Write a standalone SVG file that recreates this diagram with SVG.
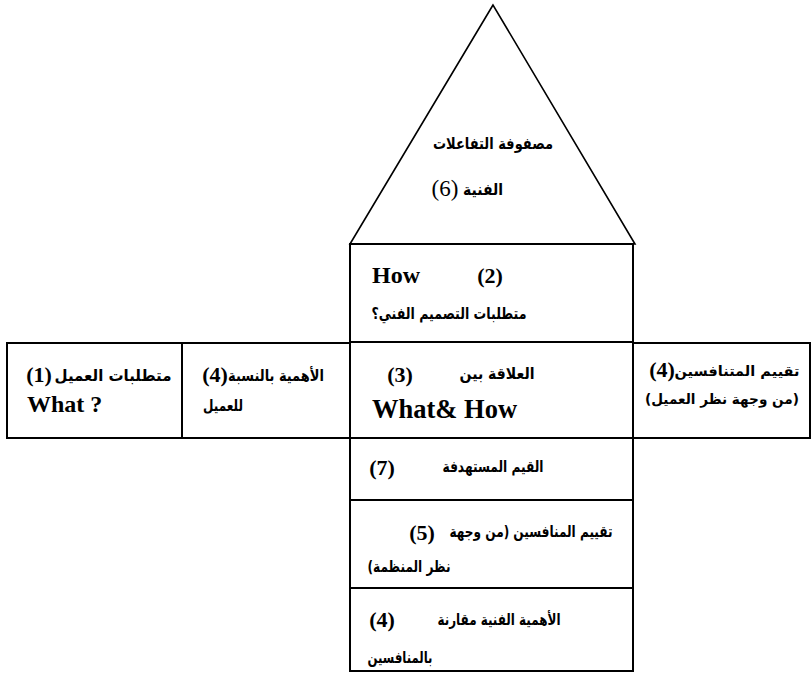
<svg xmlns="http://www.w3.org/2000/svg" width="811" height="673" viewBox="0 0 811 673">
  <style>
    .box { fill: #ffffff; stroke: #000000; stroke-width: 2; }
    .roof { fill: #ffffff; stroke: #000000; stroke-width: 1.6; stroke-linejoin: miter; }
    .ar { font-family: "DejaVu Sans", "Noto Sans", sans-serif; font-weight: bold; font-size: 16px; fill: #000; direction: rtl; text-anchor: middle; }
    .ar-sm { font-size: 14px; }
    .num { font-family: "Liberation Serif", "DejaVu Serif", "Times New Roman", serif; font-weight: bold; font-size: 22px; fill: #000; text-anchor: middle; }
    .num-reg { font-family: "Liberation Serif", "DejaVu Serif", "Times New Roman", serif; font-weight: normal; font-size: 23px; fill: #000; text-anchor: middle; }
    .en { font-family: "Liberation Serif", "DejaVu Serif", "Times New Roman", serif; font-weight: bold; fill: #000; }
  </style>

  <!-- roof: technical correlation matrix -->
  <g id="roof">
    <polygon class="roof" points="493,5 350,244 635,244"/>
    <text class="ar" x="493" y="149" textLength="120" lengthAdjust="spacingAndGlyphs">مصفوفة التفاعلات</text>
    <text class="ar" x="483" y="195" textLength="40" lengthAdjust="spacingAndGlyphs">الفنية</text>
    <text class="num-reg" x="445" y="196">(6)</text>
  </g>

  <!-- technical requirements -->
  <g id="how">
    <rect class="box" x="350" y="244" width="283" height="98"/>
    <text class="en" x="372" y="283" font-size="24">How</text>
    <text class="num" x="490" y="283">(2)</text>
    <text class="ar" x="449" y="319" textLength="155" lengthAdjust="spacingAndGlyphs">متطلبات التصميم الفني؟</text>
  </g>

  <!-- relationship matrix -->
  <g id="relationship">
    <rect class="box" x="350" y="342" width="283" height="96"/>
    <text class="ar" x="497" y="379" textLength="75" lengthAdjust="spacingAndGlyphs">العلاقة بين</text>
    <text class="num" x="400" y="382">(3)</text>
    <text class="en" x="372" y="418" font-size="26.5">What&amp; How</text>
  </g>

  <!-- customer requirements -->
  <g id="what">
    <rect class="box" x="7" y="343" width="175" height="95"/>
    <text class="ar" x="113" y="381" textLength="117" lengthAdjust="spacingAndGlyphs">متطلبات العميل</text>
    <text class="num" x="39" y="382" font-size="20">(1)</text>
    <text class="en" x="27" y="412" font-size="24">What ?</text>
  </g>

  <!-- customer importance -->
  <g id="customer-importance">
    <rect class="box" x="182" y="343" width="168" height="95"/>
    <text class="ar" x="276" y="381" textLength="96" lengthAdjust="spacingAndGlyphs">الأهمية بالنسبة</text>
    <text class="num" x="215" y="382">(4)</text>
    <text class="ar" x="223" y="411" textLength="40" lengthAdjust="spacingAndGlyphs">للعميل</text>
  </g>

  <!-- competitive assessment (customer view) -->
  <g id="customer-assessment">
    <rect class="box" x="633" y="343" width="177" height="95"/>
    <text class="ar ar-sm" x="737" y="376" textLength="125" lengthAdjust="spacingAndGlyphs">تقييم المتنافسين</text>
    <text class="num" x="662" y="377">(4)</text>
    <text class="ar ar-sm" x="722" y="404" textLength="154" lengthAdjust="spacingAndGlyphs">(من وجهة نظر العميل)</text>
  </g>

  <!-- target values -->
  <g id="targets">
    <rect class="box" x="350" y="438" width="283" height="62"/>
    <text class="ar" x="493" y="472" textLength="101" lengthAdjust="spacingAndGlyphs">القيم المستهدفة</text>
    <text class="num" x="382" y="475">(7)</text>
  </g>

  <!-- competitive assessment (organisation view) -->
  <g id="technical-assessment">
    <rect class="box" x="350" y="500" width="283" height="88"/>
    <text class="ar" x="531" y="537" textLength="163" lengthAdjust="spacingAndGlyphs">تقييم المنافسين (من وجهة</text>
    <text class="num" x="422" y="540">(5)</text>
    <text class="ar" x="409" y="572" textLength="83" lengthAdjust="spacingAndGlyphs">نظر المنظمة)</text>
  </g>

  <!-- technical importance -->
  <g id="technical-importance">
    <rect class="box" x="350" y="588" width="283" height="83"/>
    <text class="ar" x="499" y="625" textLength="123" lengthAdjust="spacingAndGlyphs">الأهمية الفنية مقارنة</text>
    <text class="num" x="382" y="627">(4)</text>
    <text class="ar" x="400" y="663" textLength="65" lengthAdjust="spacingAndGlyphs">بالمنافسين</text>
  </g>

  <g id="connectors"/>
</svg>
